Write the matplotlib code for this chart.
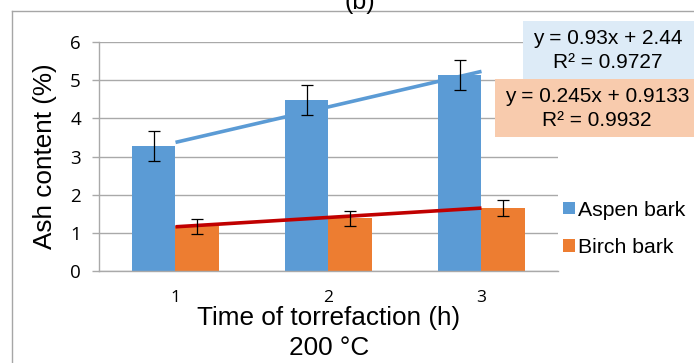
import numpy as np
import matplotlib
matplotlib.use("Agg")
import matplotlib.pyplot as plt
from matplotlib.patches import Rectangle, Patch
from matplotlib.lines import Line2D

# Data
hours = [1, 2, 3]
tick_labels = ["1", "2", "3"]
aspen_ash = [3.28, 4.48, 5.14]
aspen_err = [0.40, 0.40, 0.40]
birch_ash = [1.17, 1.38, 1.66]
birch_err = [0.19, 0.20, 0.21]
series_names = ["Aspen bark", "Birch bark"]
trend_slope = [0.93, 0.245]
trend_intercept = [2.44, 0.9133]
trend_r2 = [0.9727, 0.9932]

BLUE = "#5B9BD5"
ORANGE = "#ED7D31"
RED = "#C00000"
GRID = "#A9A9A9"
ARIAL = "Liberation Sans"
TICKFONT = "Open Sans"

W, H = 694, 363
fig = plt.figure(figsize=(W / 100, H / 100), dpi=100)

def fx(px):
    return px / W

def fy(py):
    return 1 - py / H

# Outer chart frame
fig.add_artist(Line2D([fx(12), fx(12)], [fy(10.5), fy(H + 5)], color="#A6A6A6", lw=1.0))
fig.add_artist(Line2D([fx(12), fx(W + 5)], [fy(10.5), fy(10.5)], color="#A6A6A6", lw=1.0))
fig.text(fx(360), fy(9), "(b)", ha="center", va="baseline", fontsize=18, family=ARIAL)

ax = fig.add_axes([fx(99), fy(271), fx(558) - fx(99), fy(42) - fy(271)])

x = np.array(hours, dtype=float)
bw = 0.284
ax.bar(x - bw / 2, aspen_ash, width=bw, color=BLUE, zorder=2, label=series_names[0])
ax.bar(x + bw / 2, birch_ash, width=bw, color=ORANGE, zorder=2, label=series_names[1])

# Linear trendlines
xt = np.array([hours[0], hours[-1]], dtype=float)
for m, b, c in zip(trend_slope, trend_intercept, [BLUE, RED]):
    ax.plot(xt, m * xt + b, color=c, lw=2.6, zorder=3, solid_capstyle="butt")

ax.errorbar(x - bw / 2, aspen_ash, yerr=aspen_err, fmt="none", ecolor="black",
            elinewidth=0.9, capsize=4.3, capthick=0.9, zorder=4)
ax.errorbar(x + bw / 2, birch_ash, yerr=birch_err, fmt="none", ecolor="black",
            elinewidth=0.9, capsize=4.3, capthick=0.9, zorder=4)

ax.set_xlim(0.5, 3.5)
ax.set_ylim(0, 6)
ax.set_yticks(range(0, 7))
ax.set_xticks(hours)
ax.set_xticklabels(tick_labels)
ax.yaxis.grid(True, color=GRID, lw=1.0, zorder=0)
ax.set_axisbelow(True)
for s in ["top", "right"]:
    ax.spines[s].set_visible(False)
for s in ["left", "bottom"]:
    ax.spines[s].set_color(GRID)
    ax.spines[s].set_linewidth(1.0)
ax.tick_params(axis="y", length=5, width=1.0, color=GRID, pad=8, labelsize=13.5)
ax.tick_params(axis="x", length=0, pad=14, labelsize=12.5)
for lab in ax.get_xticklabels() + ax.get_yticklabels():
    lab.set_family(TICKFONT)

fig.text(fx(45), fy(156), "Ash content (%)", rotation=90, ha="center", va="center",
         fontsize=18.8, family=ARIAL)
fig.text(fx(329), fy(318), "Time of torrefaction (h)", ha="center", va="center",
         fontsize=18.8, family=ARIAL)
fig.text(fx(329), fy(348), "200 °C", ha="center", va="center",
         fontsize=18.8, family=ARIAL)

# Trendline equation boxes
boxes = [
    (523, 21, "#DDEBF7", 608, 39, 62),
    (495, 79, "#F8CBAD", 597, 97, 120),
]
box_h = 58
for (bx, by, fc, tx, ty1, ty2), m, b, r2 in zip(boxes, trend_slope, trend_intercept, trend_r2):
    fig.add_artist(Rectangle((fx(bx), fy(by + box_h)), fx(W) - fx(bx), fy(by) - fy(by + box_h),
                             facecolor=fc, edgecolor="none", zorder=5))
    fig.text(fx(tx), fy(ty1), f"y = {m:g}x + {b:g}", ha="center", va="center",
             fontsize=15, family=ARIAL, zorder=6)
    fig.text(fx(tx), fy(ty2), f"R² = {r2:.4f}", ha="center", va="center",
             fontsize=15, family=ARIAL, zorder=6)

handles = [Patch(facecolor=BLUE), Patch(facecolor=ORANGE)]
fig.legend(handles, series_names, loc="center left", bbox_to_anchor=(fx(563), fy(229)),
           frameon=False, prop={"family": ARIAL, "size": 15.3}, handlelength=0.55,
           handleheight=0.5, handletextpad=0.15, labelspacing=0.85, borderaxespad=0,
           borderpad=0)

fig.savefig("out.png", dpi=100)
